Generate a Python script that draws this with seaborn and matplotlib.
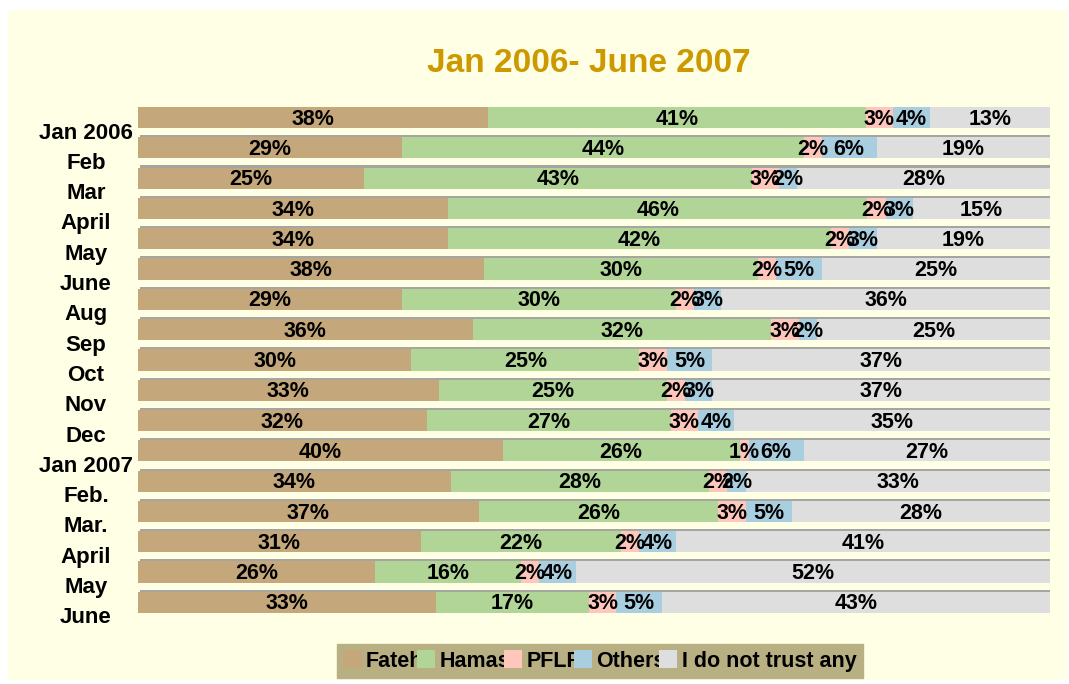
import numpy as np
import pandas as pd
import seaborn as sns
import matplotlib.pyplot as plt
from matplotlib.patches import Rectangle, Patch
from matplotlib import patheffects
from matplotlib.transforms import ScaledTranslation

# data
months = ['Jan 2006', 'Feb', 'Mar', 'April', 'May', 'June', 'Aug', 'Sep', 'Oct',
          'Nov', 'Dec', 'Jan 2007', 'Feb.', 'Mar.', 'April', 'May', 'June']
fateh = [38, 29, 25, 34, 34, 38, 29, 36, 30, 33, 32, 40, 34, 37, 31, 26, 33]
hamas = [41, 44, 43, 46, 42, 30, 30, 32, 25, 25, 27, 26, 28, 26, 22, 16, 17]
pflf = [3, 2, 3, 2, 2, 2, 2, 3, 3, 2, 3, 1, 2, 3, 2, 2, 3]
others = [4, 6, 2, 3, 3, 5, 3, 2, 5, 3, 4, 6, 2, 5, 4, 4, 5]
no_trust = [13, 19, 28, 15, 19, 25, 36, 25, 37, 37, 35, 27, 33, 28, 41, 52, 43]

series = ['Fateh', 'Hamas', 'PFLF', 'Others', 'I do not trust any']
colors = ['#C4A77A', '#B1D497', '#FFC7BC', '#A9CEE0', '#DEDEDE']

df = pd.DataFrame({'row': range(len(months)), 'Fateh': fateh, 'Hamas': hamas,
                   'PFLF': pflf, 'Others': others, 'I do not trust any': no_trust})
# 100% stacked, like the original
tot = df[series].sum(axis=1)
share = df[series].div(tot, axis=0) * 100
cum = share.cumsum(axis=1)

sns.set_theme(style='white')
plt.rcParams['font.family'] = ['Liberation Sans', 'DejaVu Sans']
plt.rcParams['font.weight'] = 'bold'
plt.rcParams['text.color'] = 'black'
plt.rcParams['ytick.color'] = 'black'

fig = plt.figure(figsize=(10.69, 6.84), dpi=100)
fig.patch.set_facecolor('white')
fig.patches.append(Rectangle((0.0075, 0.006), 0.991, 0.979, transform=fig.transFigure,
                             facecolor='#FFFFE6', edgecolor='none', zorder=-5))

ax = fig.add_axes([0.129, 0.1038, 0.853, 0.7398])
ax.set_facecolor('none')

# draw from the full bar down so each layer sits on top of the longer one
for i in range(len(series) - 1, -1, -1):
    plot_df = pd.DataFrame({'row': df['row'], 'val': cum[series[i]]})
    sns.barplot(data=plot_df, x='val', y='row', orient='h', color=colors[i],
                saturation=1, width=0.7, ax=ax, linewidth=0)
    if i == len(series) - 1:
        for p in ax.patches:
            p.set_path_effects([patheffects.SimplePatchShadow(offset=(1.5, 1.5), shadow_rgbFace='#909090', alpha=0.8),
                                patheffects.Normal()])

# segment labels
for r in range(len(months)):
    left = 0
    for s in series:
        w = share.loc[r, s]
        ax.text(left + w / 2, r + 0.05, f'{df.loc[r, s]}%', ha='center', va='center',
                fontsize=15.5, fontweight='bold', color='black')
        left += w

ax.set_xlim(0, 100)
ax.set_ylim(16.35, -0.35)
ax.set_xlabel('')
ax.set_ylabel('')
ax.set_xticks([])
ax.set_yticks(range(len(months)))
ax.set_yticklabels(months, fontsize=16, fontweight='bold')
ax.tick_params(axis='y', length=0, pad=0)
for lab in ax.get_yticklabels():
    lab.set_horizontalalignment('center')
    lab.set_transform(lab.get_transform() + ScaledTranslation(-52 / 100, -13 / 100, fig.dpi_scale_trans))
sns.despine(ax=ax, left=True, bottom=True)

fig.text(589 / 1069, 1 - 63 / 684, 'Jan 2006- June 2007', ha='center', va='center',
         fontsize=24, fontweight='bold', color='#CC9900')

handles = [Patch(facecolor=c, edgecolor='none') for c in colors]
leg = fig.legend(handles, series, loc='center', bbox_to_anchor=(600 / 1069, 1 - 661 / 684),
                 ncol=5, frameon=True, fancybox=False, framealpha=1,
                 facecolor='#B8AF83', edgecolor='#B8AF83',
                 handlelength=0.85, handleheight=0.85, handletextpad=0.2, columnspacing=-0.3,
                 borderpad=0.3, prop={'weight': 'bold', 'size': 15.5})

fig.savefig('out.png', dpi=100, facecolor=fig.get_facecolor())
